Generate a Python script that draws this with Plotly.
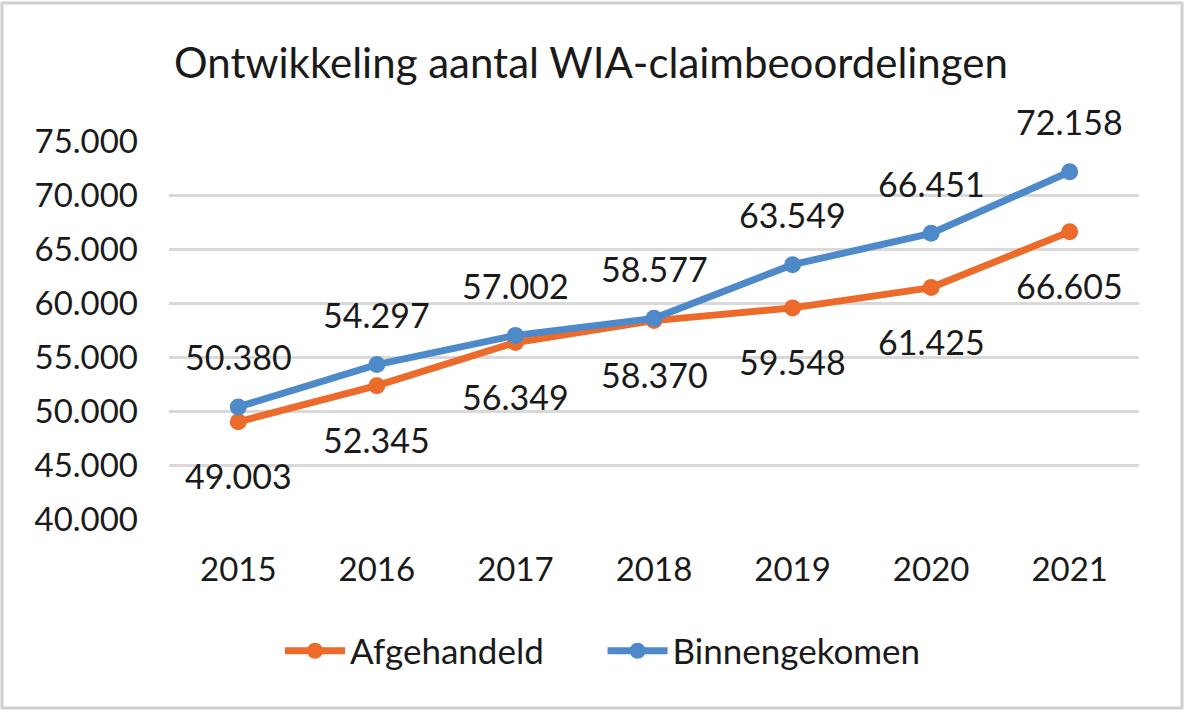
import plotly.graph_objects as go

years = ["2015", "2016", "2017", "2018", "2019", "2020", "2021"]
afgehandeld = [49003, 52345, 56349, 58370, 59548, 61425, 66605]
binnengekomen = [50380, 54297, 57002, 58577, 63549, 66451, 72158]
y_ticks = [40000, 45000, 50000, 55000, 60000, 65000, 70000, 75000]

ORANGE = "#EC6B2A"
BLUE = "#4E8AC9"
FONT = "Lato, Calibri, sans-serif"
TXT = "#1a1a1a"

def fmt(v):
    return f"{v:,}".replace(",", ".")

fig = go.Figure()
fig.add_trace(go.Scatter(x=years, y=afgehandeld, name="Afgehandeld      ", mode="lines+markers",
                         line=dict(color=ORANGE, width=7), marker=dict(size=17, color=ORANGE)))
fig.add_trace(go.Scatter(x=years, y=binnengekomen, name="Binnengekomen", mode="lines+markers",
                         line=dict(color=BLUE, width=7), marker=dict(size=17, color=BLUE)))

for i, v in enumerate(afgehandeld):
    fig.add_annotation(x=i, y=v, xref="x", yref="y", text=fmt(v), showarrow=False,
                       yshift=-54, font=dict(size=34, color=TXT, family=FONT))
for i, v in enumerate(binnengekomen):
    fig.add_annotation(x=i, y=v, xref="x", yref="y", text=fmt(v), showarrow=False,
                       yshift=50, font=dict(size=34, color=TXT, family=FONT))

L, R, T, B = 169, 1139, 141, 519
W, H = 1186, 712
pw, ph = R - L, B - T

def px(xp):
    return (xp - L) / pw

def py(yp):
    return (B - yp) / ph

fig.add_shape(type="rect", xref="paper", yref="paper",
              x0=px(2), x1=px(1182), y0=py(708), y1=py(3),
              line=dict(color="#D0D0D0", width=3), fillcolor="rgba(0,0,0,0)", layer="below")

fig.update_layout(
    width=W, height=H,
    margin=dict(l=L, r=W - R, t=T, b=H - B),
    paper_bgcolor="white", plot_bgcolor="white",
    separators=",.",
    font=dict(family=FONT, size=33, color=TXT),
    title=dict(text="Ontwikkeling aantal WIA-claimbeoordelingen", xref="container",
               x=591 / W, xanchor="center",
               y=1 - 63 / H, yanchor="middle", font=dict(size=42, family=FONT, color=TXT)),
    showlegend=True,
    legend=dict(orientation="h", x=px(603), xanchor="center", y=py(651), yanchor="middle",
                font=dict(size=35, family=FONT, color=TXT), itemwidth=60,
                bgcolor="rgba(0,0,0,0)"),
    xaxis=dict(type="category", range=[-0.5, 6.5], showgrid=False, zeroline=False,
               showline=False, ticks="", ticklabelstandoff=28, tickfont=dict(size=33)),
    yaxis=dict(range=[40000, 75000], tickvals=y_ticks, tickformat=",d", showgrid=True,
               gridcolor="#D9D9D9", gridwidth=3, zeroline=False, showline=False, ticks="",
               ticklabelstandoff=30, tickfont=dict(size=33)),
)

fig.write_html("out.html", config={"displayModeBar": False},
               post_script="document.body.style.margin='0';")
